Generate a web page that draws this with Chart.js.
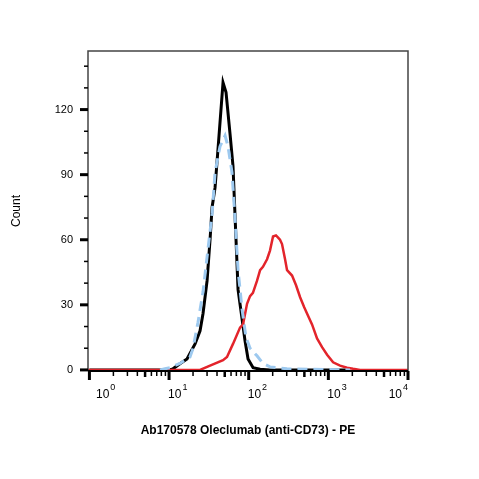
<!DOCTYPE html>
<html>
<head>
<meta charset="utf-8">
<script src="https://cdn.jsdelivr.net/npm/chart.js@4.4.1/dist/chart.umd.min.js"></script>
<style>
    html, body { margin: 0; padding: 0; background: #fff; }
    #wrap { width: 479px; height: 479px; }
</style>
</head>
<body>
<div id="wrap"><canvas id="histograma"></canvas></div>
<script>
// Curva negra (control)
const blackX = [1, 10, 11.2, 13.7, 16.8, 21.2, 24.5, 26.7, 30, 32.7, 34.7, 37.8, 42.4, 47.6, 51.9, 58.2, 63.5, 69.3, 73.5, 82.5, 89.9, 98.1, 113.5, 139, 185, 1870];
const blackY = [0, 0, 0.5, 2.8, 5, 12, 18, 26, 41, 60, 75, 84, 108, 132.5, 128, 109, 94, 60, 37, 23.6, 13.4, 5, 1, 0.3, 0, 0];

// Curva azul discontinua
const blueX = [7.7, 8.9, 10.3, 13.7, 18.3, 20, 23.1, 26.7, 30, 34.7, 37.8, 43.6, 50.5, 55, 61.7, 67.3, 73.5, 82.5, 92.4, 104, 127, 151, 185, 302, 1870];
const blueY = [0, 0.5, 1, 3, 6, 10, 22, 36, 52, 72, 91, 103, 108, 103, 91, 70, 46, 28, 15, 10, 6.5, 3, 1.4, 0.5, 0];

// Curva roja (Oleclumab)
const redX = [0.96, 24.5, 32.7, 47.6, 53.4, 63.5, 77.8, 84.9, 95.3, 104, 113, 127, 139, 151, 170, 185, 202, 220, 234, 247, 262, 286, 303, 350, 393, 442, 496, 556, 624, 721, 834, 964, 1147, 1403, 1717, 2043, 2505, 10000];
const redY = [0, 0, 2, 4.5, 6, 12, 19.5, 21, 30.5, 34, 35.5, 41, 46, 47.5, 51, 55, 61.5, 62, 61, 60, 58, 51, 46, 43.5, 39, 33.5, 29, 25, 21, 14.5, 10.5, 7, 3.5, 2, 1, 0.5, 0, 0];

// Marcas de los ejes
const xDecades = [1, 10, 100, 1000, 10000];
const xExponents = ["0", "1", "2", "3", "4"];
const yTicks = [0, 10, 20, 30, 40, 50, 60, 70, 80, 90, 100, 110, 120, 130, 140];
const yLabelStep = 30;

const xTitle = "Ab170578 Oleclumab (anti-CD73) - PE";
const yTitle = "Count";

Chart.defaults.font.family = "'Liberation Sans', Arial, sans-serif";
Chart.defaults.color = "#000";

function toPoints(xs, ys) {
    return xs.map((x, i) => ({ x: x, y: ys[i] }));
}

// Dibuja marco, marcas y etiquetas 10^n
const ejesPlugin = {
    id: "ejes",
    afterDraw(chart) {
        const ctx = chart.ctx;
        const area = chart.chartArea;
        const sx = chart.scales.x;
        const sy = chart.scales.y;
        ctx.save();

        // marco
        ctx.strokeStyle = "#444";
        ctx.lineWidth = 1.5;
        ctx.beginPath();
        ctx.moveTo(area.left, area.bottom);
        ctx.lineTo(area.left, area.top);
        ctx.lineTo(area.right, area.top);
        ctx.lineTo(area.right, area.bottom);
        ctx.stroke();

        ctx.strokeStyle = "#000";
        ctx.lineWidth = 2;
        ctx.beginPath();
        ctx.moveTo(area.left, area.bottom);
        ctx.lineTo(area.right, area.bottom);
        ctx.stroke();

        // marcas eje x
        xDecades.forEach((d, i) => {
            const px = sx.getPixelForValue(d);
            ctx.lineWidth = 3;
            ctx.beginPath();
            ctx.moveTo(px, area.bottom);
            ctx.lineTo(px, area.bottom + 9);
            ctx.stroke();
            if (i === xDecades.length - 1) return;
            for (let m = 2; m <= 9; m++) {
                const pm = sx.getPixelForValue(d * m);
                ctx.lineWidth = m === 5 ? 2.5 : 1.5;
                ctx.beginPath();
                ctx.moveTo(pm, area.bottom);
                ctx.lineTo(pm, area.bottom + (m === 5 ? 6 : 5));
                ctx.stroke();
            }
        });

        // marcas eje y
        yTicks.forEach((v) => {
            const py = sy.getPixelForValue(v);
            const mayor = v % yLabelStep === 0;
            ctx.lineWidth = mayor ? 3 : 1.5;
            ctx.beginPath();
            ctx.moveTo(area.left, py);
            ctx.lineTo(area.left - (mayor ? 8 : 4), py);
            ctx.stroke();
        });

        // etiquetas 10^n
        const fBase = "12px 'Liberation Sans', Arial, sans-serif";
        const fExp = "9px 'Liberation Sans', Arial, sans-serif";
        ctx.fillStyle = "#000";
        ctx.textBaseline = "alphabetic";
        ctx.textAlign = "left";
        xDecades.forEach((d, i) => {
            const px = sx.getPixelForValue(d);
            ctx.font = fBase;
            const wBase = ctx.measureText("10").width;
            ctx.font = fExp;
            const wExp = ctx.measureText(xExponents[i]).width;
            let x0 = Math.max(px - 1, area.left + 8);
            if (x0 + wBase + 1 + wExp > area.right) x0 = area.right - (wBase + 1 + wExp);
            ctx.font = fBase;
            ctx.fillText("10", x0, area.bottom + 27);
            ctx.font = fExp;
            ctx.fillText(xExponents[i], x0 + wBase + 1, area.bottom + 19);
        });
        ctx.restore();
    },
};

new Chart(document.getElementById("histograma").getContext("2d"), {
    type: "scatter",
    data: {
        datasets: [
            {
                label: "Azul",
                data: toPoints(blueX, blueY),
                showLine: true,
                borderColor: "#9dc9ef",
                borderWidth: 3,
                borderDash: [10, 6],
                pointRadius: 0,
                order: 0,
            },
            {
                label: "Oleclumab",
                data: toPoints(redX, redY),
                showLine: true,
                borderColor: "#e3242b",
                borderWidth: 2.5,
                pointRadius: 0,
                order: 1,
            },
            {
                label: "Control",
                data: toPoints(blackX, blackY),
                showLine: true,
                borderColor: "#000",
                borderWidth: 3,
                pointRadius: 0,
                order: 2,
            },
        ],
    },
    options: {
        responsive: true,
        maintainAspectRatio: false,
        animation: false,
        layout: { padding: { top: 51, right: 71, left: 0, bottom: 0 } },
        plugins: { legend: { display: false }, tooltip: { enabled: false } },
        scales: {
            x: {
                type: "logarithmic",
                min: 0.96,
                max: 10000,
                grid: { display: false },
                border: { display: false },
                ticks: { display: false },
                afterBuildTicks: (s) => { s.ticks = xDecades.map((v) => ({ value: v })); },
                afterFit: (s) => { s.height = 108; },
                title: {
                    display: true,
                    text: xTitle,
                    font: { size: 12, weight: "bold" },
                    padding: { top: 0, bottom: 41 },
                },
            },
            y: {
                min: -0.5,
                max: 147,
                grid: { display: false },
                border: { display: false },
                afterBuildTicks: (s) => { s.ticks = yTicks.map((v) => ({ value: v })); },
                afterFit: (s) => { s.width = 88; },
                ticks: {
                    padding: 7,
                    font: { size: 11 },
                    callback: (v) => (v % yLabelStep === 0 ? v : ""),
                },
                title: {
                    display: true,
                    text: yTitle,
                    font: { size: 12 },
                    padding: { top: 9, bottom: 0 },
                },
            },
        },
    },
    plugins: [ejesPlugin],
});
</script>
</body>
</html>
